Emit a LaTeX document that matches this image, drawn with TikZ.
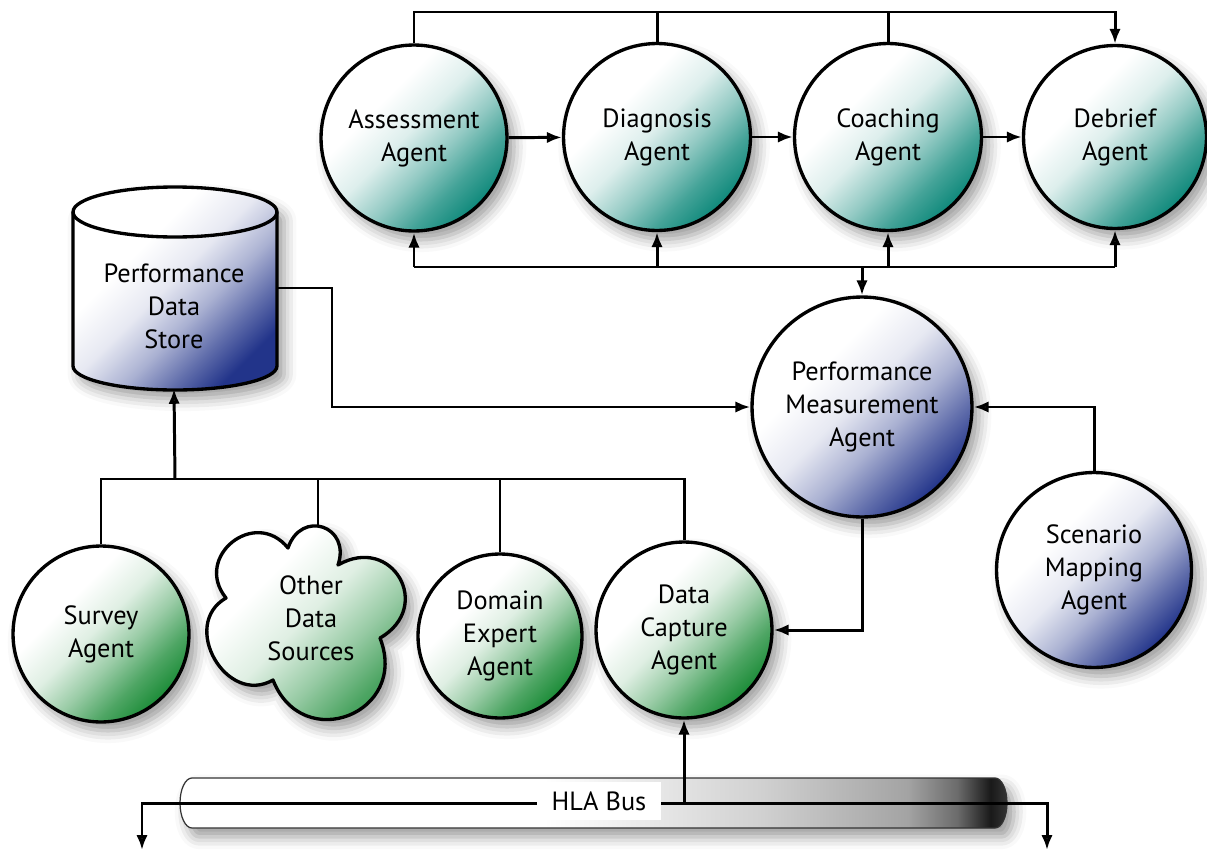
\documentclass[tikz,border=0pt]{standalone}
\usepackage{fontspec}
\setmainfont{PT Sans}
\usetikzlibrary{arrows.meta,shadows.blur}
\definecolor{tealD}{HTML}{0F897B}
\definecolor{blueD}{HTML}{22348A}
\definecolor{greenD}{HTML}{1C8C38}
\pgfdeclareverticalshading{tealsh}{100bp}{color(0bp)=(tealD); color(25bp)=(tealD); color(33bp)=(tealD!78!white); color(42bp)=(tealD!45!white); color(52bp)=(tealD!14!white); color(63bp)=(white); color(100bp)=(white)}
\pgfdeclareverticalshading{bluesh}{100bp}{color(0bp)=(blueD); color(25bp)=(blueD); color(33bp)=(blueD!72!white); color(42bp)=(blueD!38!white); color(52bp)=(blueD!11!white); color(63bp)=(white); color(100bp)=(white)}
\pgfdeclareverticalshading{greensh}{100bp}{color(0bp)=(greenD); color(25bp)=(greenD); color(33bp)=(greenD!78!white); color(42bp)=(greenD!45!white); color(52bp)=(greenD!14!white); color(63bp)=(white); color(100bp)=(white)}
\pgfdeclarehorizontalshading{hlash}{100bp}{color(0bp)=(white); color(47bp)=(white); color(60bp)=(black!18); color(69bp)=(black!36); color(72bp)=(black!58); color(74bp)=(black!90); color(75bp)=(black!80); color(100bp)=(black!80)}
\begin{document}
\begin{tikzpicture}[x=0.02cm,y=0.02cm,
  font=\fontsize{15}{18.8}\selectfont,
  shad/.style={blur shadow={shadow xshift=4pt,shadow yshift=-5pt,shadow blur radius=7pt,shadow opacity=40}},
  agent/.style={circle,draw,line width=1.9pt,inner sep=0pt,align=center,shad,shade,shading angle=45},
  tealagent/.style={agent,shading=tealsh},
  blueagent/.style={agent,shading=bluesh},
  greenagent/.style={agent,shading=greensh},
  ln/.style={line width=1.7pt},
  arr/.style={line width=1.7pt,-{Latex[length=8.5pt,width=6.5pt]}},
  darr/.style={line width=1.7pt,{Latex[length=8.5pt,width=6.5pt]}-{Latex[length=8.5pt,width=6.5pt]}}]
\useasboundingbox (0,0) rectangle (1207,-852);

% HLA tube
\path[draw=black!80,line width=0.7pt,shade,shading=hlash,shad]
  (192,-778) -- (995,-778) arc[start angle=90,end angle=-90,x radius=12,y radius=25]
  -- (192,-828) arc[start angle=270,end angle=90,x radius=12,y radius=25] -- cycle;

% cylinder
\path[draw,line width=1.9pt,shade,shading=bluesh,shading angle=45,shad]
  (73,-212) -- (73,-366) arc[start angle=180,end angle=360,x radius=102,y radius=24]
  -- (277,-212) arc[start angle=0,end angle=180,x radius=102,y radius=25] -- cycle;
\draw[line width=1.9pt] (73,-212) arc[start angle=180,end angle=360,x radius=102,y radius=25];
\node[align=center,minimum width=4.08cm,minimum height=3.3cm,inner sep=0pt] (store) at (174,-306) {Performance\\Data\\Store};

% cloud
\path[draw,line width=1.9pt,line join=round,shade,shading=greensh,shading angle=45,shad]
  (226,-598) to[bend left=90,looseness=1.7] (288,-548)
  to[bend left=90,looseness=2.0] (338,-565)
  to[bend left=90,looseness=1.9] (380,-638)
  to[bend left=90,looseness=1.8] (273,-680)
  to[bend left=90,looseness=1.45] (226,-598) -- cycle;
\node[align=center,inner sep=0pt] (other) at (311,-618) {Other\\Data\\Sources};
\coordinate (othertop) at (318,-525);

% agents
\node[tealagent,minimum size=3.72cm] (assess) at (414,-138) {Assessment\\Agent};
\node[tealagent,minimum size=3.74cm] (diag) at (657,-137) {Diagnosis\\Agent};
\node[tealagent,minimum size=3.74cm] (coach) at (888,-137) {Coaching\\Agent};
\node[tealagent,minimum size=3.66cm] (debrief) at (1115,-137) {Debrief\\Agent};
\node[blueagent,minimum size=4.4cm] (pm) at (862,-407) {Performance\\Measurement\\Agent};
\node[blueagent,minimum size=3.9cm] (scen) at (1094,-570) {Scenario\\Mapping\\Agent};
\node[greenagent,minimum size=3.52cm] (survey) at (101,-634) {Survey\\Agent};
\node[greenagent,minimum size=3.28cm] (domain) at (500,-636) {Domain\\Expert\\Agent};
\node[greenagent,minimum size=3.52cm] (dc) at (684,-630) {Data\\Capture\\Agent};

% top feedback
\coordinate (tl) at (414,-12);
\draw[arr] (assess.north) -- (tl) -| (debrief.north);
\draw[ln] (diag.north) -- (diag.north |- tl);
\draw[ln] (coach.north) -- (coach.north |- tl);

% chain
\draw[arr] (assess) -- (diag);
\draw[arr] (diag) -- (coach);
\draw[arr] (coach) -- (debrief);

% bottom bus of top row
\coordinate (bb) at (862,-267);
\draw[ln] (assess.south |- bb) -- (debrief.south |- bb);
\draw[arr] (assess.south |- bb) -- (assess.south);
\draw[arr] (diag.south |- bb) -- (diag.south);
\draw[arr] (coach.south |- bb) -- (coach.south);
\draw[arr] (debrief.south |- bb) -- (debrief.south);
\draw[arr] (bb) -- (pm.north);

% store to pm
\coordinate (k1) at (332,-288);
\draw[arr] (store.east |- k1) -- (k1) |- (pm.west);

% scenario to pm
\draw[arr] (scen.north) |- (pm.east);

% pm to data capture
\draw[arr] (pm.south) |- (dc.east);

% lower collector bus
\coordinate (lb) at (175,-479);
\draw[ln] (survey.north) -- (survey.north |- lb) -- (dc.north |- lb) -- (dc.north);
\draw[ln] (othertop) -- (othertop |- lb);
\draw[ln] (domain.north) -- (domain.north |- lb);
\draw[arr] (lb) -- (store.south);

% HLA bus line
\coordinate (bl) at (142,-803);
\coordinate (bld) at (142,-850);
\coordinate (br) at (1047,-803);
\coordinate (brd) at (1047,-850);
\draw[darr] (bld) -- (bl) -- (br) -- (brd);
\draw[arr] (dc.south |- bl) -- (dc.south);
\node[fill=white,minimum width=2.48cm,minimum height=0.76cm,inner sep=0pt] (hla) at (599,-801) {HLA Bus};
\end{tikzpicture}
\end{document}
